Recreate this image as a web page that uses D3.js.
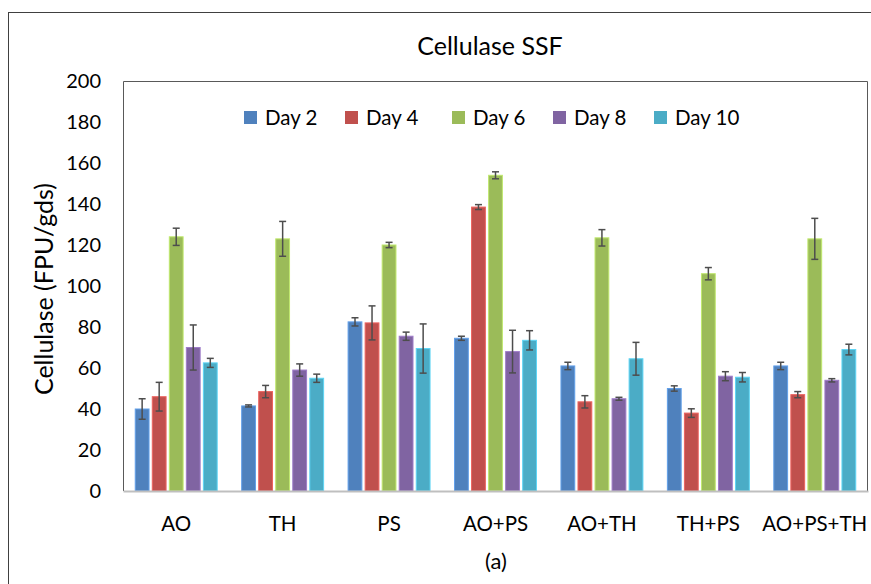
<!DOCTYPE html>
<html>
<head>
<meta charset="utf-8">
<script src="https://cdn.jsdelivr.net/npm/d3@7"></script>
<style>
  body { margin: 0; background: #fff; }
  text { font-family: Lato, "Open Sans", sans-serif; fill: #000; }
</style>
</head>
<body>
<div id="chart"></div>
<script>
// groups on the x axis
var categories = ['AO', 'TH', 'PS', 'AO+PS', 'AO+TH', 'TH+PS', 'AO+PS+TH'];
var seriesNames = ['Day 2', 'Day 4', 'Day 6', 'Day 8', 'Day 10'];
var seriesColors = ['#4F81BD', '#C0504D', '#9BBB59', '#8064A2', '#4BACC6'];

// mean values, one array per day
var day2 = [40, 41.5, 82.5, 74.5, 61, 50, 61];
var day4 = [46, 48.5, 82, 138.5, 43.5, 38, 47];
var day6 = [124, 123, 120, 154, 123.5, 106, 123];
var day8 = [70, 59, 75.5, 68, 45, 56, 54];
var day10 = [62.5, 55, 69.5, 73.5, 64.5, 55.5, 69];

// error (+/-) values
var err2 = [5, 0.5, 2, 1, 1.8, 1.3, 1.8];
var err4 = [7, 3, 8.3, 1.2, 3, 2.1, 1.5];
var err6 = [4.2, 8.5, 1.3, 1.7, 4, 3, 10];
var err8 = [11, 3, 2, 10.4, 0.7, 2.2, 0.8];
var err10 = [2.2, 2, 12, 4.7, 8, 2.3, 2.6];

var yTicks = [0, 20, 40, 60, 80, 100, 120, 140, 160, 180, 200];

var values = [day2, day4, day6, day8, day10];
var errors = [err2, err4, err6, err8, err10];

var width = 871, height = 584;
var plot = {left: 123, top: 81, right: 868, bottom: 491};

var svg = d3.select('#chart').append('svg')
  .attr('width', width)
  .attr('height', height);

// outer chart frame
svg.append('rect')
  .attr('x', 8.5).attr('y', 12.5)
  .attr('width', 900).attr('height', 600)
  .attr('fill', 'none')
  .attr('stroke', '#404040')
  .attr('stroke-width', 1);

var x0 = d3.scaleBand()
  .domain(categories)
  .range([plot.left, plot.right])
  .paddingInner(0.23)
  .paddingOuter(0.115);

var x1 = d3.scaleBand()
  .domain(seriesNames)
  .range([0, x0.bandwidth()])
  .paddingInner(0.19)
  .paddingOuter(0.0);

var y = d3.scaleLinear()
  .domain([0, 200])
  .range([plot.bottom, plot.top]);

// plot area border (left, top, right)
svg.append('path')
  .attr('d', 'M' + (plot.left + 0.5) + ',' + plot.bottom +
    'V' + (plot.top + 0.5) + 'H' + (plot.right - 0.5) + 'V' + plot.bottom)
  .attr('fill', 'none')
  .attr('stroke', '#595959')
  .attr('stroke-width', 1);

// build the flat table of bars
var rows = [];
categories.forEach(function (c, i) {
  seriesNames.forEach(function (s, j) {
    rows.push({cat: c, series: s, color: seriesColors[j], value: values[j][i], err: errors[j][i]});
  });
});

var bars = svg.append('g');

bars.selectAll('rect')
  .data(rows)
  .enter().append('rect')
  .attr('x', function (d) { return x0(d.cat) + x1(d.series); })
  .attr('y', function (d) { return y(d.value); })
  .attr('width', x1.bandwidth())
  .attr('height', function (d) { return y(0) - y(d.value); })
  .attr('fill', function (d) { return d.color; })
  .attr('stroke', function (d) { return d3.rgb(d.color).brighter(0.6); })
  .attr('stroke-width', 1);

// error bars
var errG = svg.append('g')
  .attr('stroke', '#4d4d4d')
  .attr('stroke-width', 1.5);

rows.forEach(function (d) {
  var cx = x0(d.cat) + x1(d.series) + x1.bandwidth() / 2;
  var y1 = y(d.value + d.err), y2 = y(d.value - d.err);
  errG.append('line').attr('x1', cx).attr('x2', cx).attr('y1', y1).attr('y2', y2);
  errG.append('line').attr('x1', cx - 3.5).attr('x2', cx + 3.5).attr('y1', y1).attr('y2', y1);
  errG.append('line').attr('x1', cx - 3.5).attr('x2', cx + 3.5).attr('y1', y2).attr('y2', y2);
});

// x axis
var xAxis = svg.append('g')
  .attr('transform', 'translate(0,' + plot.bottom + ')')
  .call(d3.axisBottom(x0).tickSize(0).tickPadding(25));
xAxis.select('.domain').attr('stroke', '#BFBFBF').attr('stroke-width', 2);
xAxis.selectAll('text')
  .style('font-size', '20.5px')
  .attr('fill', '#000');

// y axis
var yAxis = svg.append('g')
  .attr('transform', 'translate(' + plot.left + ',0)')
  .call(d3.axisLeft(y).tickValues(yTicks).tickSize(0).tickPadding(22));
yAxis.select('.domain').remove();
yAxis.selectAll('text')
  .style('font-size', '20px')
  .attr('fill', '#000');

// title
svg.append('text')
  .attr('x', 490)
  .attr('y', 55)
  .attr('text-anchor', 'middle')
  .style('font-size', '25px')
  .text('Cellulase SSF');

// y axis title
svg.append('text')
  .attr('transform', 'translate(53,289) rotate(-90)')
  .attr('text-anchor', 'middle')
  .style('font-size', '25px')
  .text('Cellulase (FPU/gds)');

// sub label
svg.append('text')
  .attr('x', 496)
  .attr('y', 569)
  .attr('text-anchor', 'middle')
  .style('font-size', '22px')
  .text('(a)');

// legend
var legendX = [244, 345, 452, 553, 654];
var legend = svg.append('g');
var items = legend.selectAll('g')
  .data(seriesNames)
  .enter().append('g')
  .attr('transform', function (d, i) { return 'translate(' + legendX[i] + ',111)'; });
items.append('rect')
  .attr('width', 13).attr('height', 13)
  .attr('fill', function (d, i) { return seriesColors[i]; });
items.append('text')
  .attr('x', 21)
  .attr('y', 13.5)
  .style('font-size', '20.5px')
  .text(function (d) { return d; });
</script>
</body>
</html>
